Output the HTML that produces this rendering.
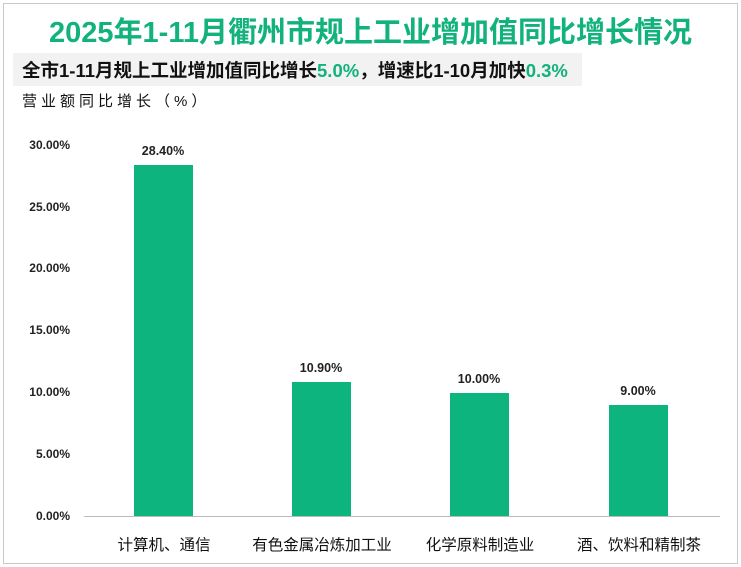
<!DOCTYPE html><html><head><meta charset="utf-8"><style>
body{margin:0;width:741px;height:567px;background:#fff;font-family:"Liberation Sans","Noto Sans CJK SC",sans-serif;position:relative;overflow:hidden}
.frame{position:absolute;left:3px;top:3px;width:733px;height:559px;border:1px solid #c8c8c8}
.t{position:absolute;white-space:nowrap}
.yl{position:absolute;left:0;width:70px;text-align:right;font-size:12px;font-weight:bold;color:#222}
.bar{position:absolute;width:59px;background:#0db47e}
.vl{position:absolute;width:100px;text-align:center;font-size:12.5px;font-weight:bold;color:#222}
.xl{position:absolute;width:180px;text-align:center;font-size:15.5px;color:#111;top:533px}
</style></head><body>
<div class="frame"></div>
<div class="t" style="left:0;width:741px;text-align:center;top:9px;font-size:29px;font-weight:bold;color:#11b27c">2025年1-11月衢州市规上工业增加值同比增长情况</div>
<div style="position:absolute;left:13px;top:53px;width:569px;height:33px;background:#f2f2f2"></div>
<div class="t" style="left:22px;top:57px;font-size:18.5px;font-weight:bold;color:#111">全市1-11月规上工业增加值同比增长<span style="color:#11b27c">5.0%</span>，增速比1-10月加快<span style="color:#11b27c">0.3%</span></div>
<div class="t" style="left:22px;top:90px;font-size:15px;letter-spacing:4px;color:#111">营业额同比增长（%）</div>
<div class="yl" style="top:138px">30.00%</div>
<div class="yl" style="top:200px">25.00%</div>
<div class="yl" style="top:261px">20.00%</div>
<div class="yl" style="top:323px">15.00%</div>
<div class="yl" style="top:385px">10.00%</div>
<div class="yl" style="top:447px">5.00%</div>
<div class="yl" style="top:509px">0.00%</div>
<div style="position:absolute;left:84px;top:516px;width:636px;height:1px;background:#bbb"></div>
<div class="bar" style="left:134px;top:165px;height:351px"></div>
<div class="bar" style="left:292px;top:382px;height:134px"></div>
<div class="bar" style="left:450px;top:393px;height:123px"></div>
<div class="bar" style="left:609px;top:405px;height:111px"></div>
<div class="vl" style="left:113px;top:144px">28.40%</div>
<div class="vl" style="left:271px;top:361px">10.90%</div>
<div class="vl" style="left:429px;top:372px">10.00%</div>
<div class="vl" style="left:588px;top:384px">9.00%</div>
<div class="xl" style="left:74px">计算机、通信</div>
<div class="xl" style="left:232px">有色金属冶炼加工业</div>
<div class="xl" style="left:390px">化学原料制造业</div>
<div class="xl" style="left:549px">酒、饮料和精制茶</div>
</body></html>
